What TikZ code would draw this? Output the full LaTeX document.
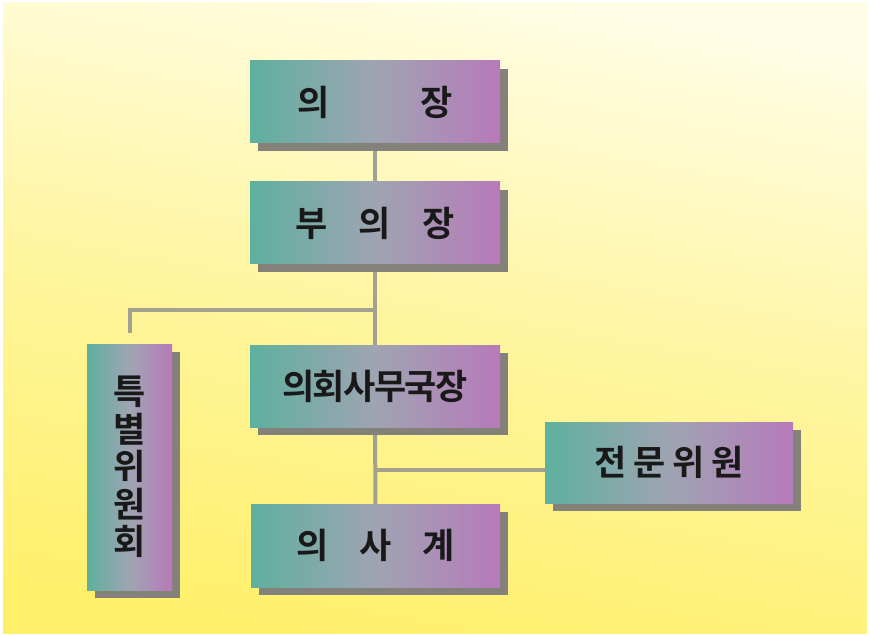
\documentclass[tikz,border=0pt]{standalone}
\usepackage{fontspec}
\newfontfamily\kr{Noto Sans CJK KR Bold}
\usetikzlibrary{shadows}
\definecolor{bgtop}{HTML}{FFFDE6}
\definecolor{bgmid}{HTML}{FFF5A0}
\definecolor{bgbot}{HTML}{FFF06C}
\definecolor{boxL}{HTML}{5EB09E}
\definecolor{boxM}{HTML}{9FA4B2}
\definecolor{boxR}{HTML}{B77ABA}
\definecolor{shadowgray}{HTML}{84817A}
\definecolor{linegray}{HTML}{A3A192}
\pgfdeclarelayer{bg}
\pgfdeclarelayer{lines}
\pgfsetlayers{bg,lines,main}
\tikzset{
  orgbox/.style={rectangle, inner sep=0pt, outer sep=0pt,
    left color=boxL, right color=boxR, middle color=boxM,
    drop shadow={shadow xshift=8pt, shadow yshift=-8pt, opacity=1, fill=shadowgray},
    font=\kr\fontsize{35}{35}\selectfont, text=black!90},
  link/.style={draw=linegray, line width=4pt}
}
\begin{document}
\begin{tikzpicture}[x=1pt,y=-1pt]
\useasboundingbox (0,0) rectangle (870,636);
\begin{pgfonlayer}{bg}
  \fill[white] (0,0) rectangle (870,636);
  \shade[top color=bgtop, bottom color=bgbot, middle color=bgmid, shading angle=-10] (3,3) rectangle (867,633);
\end{pgfonlayer}

\node[orgbox, minimum width=250pt, minimum height=82pt] (chair) at (375,102) {의\hspace{91pt}장};
\node[orgbox, minimum width=250pt, minimum height=82pt] (vice) at (375,223) {부\hspace{31pt}의\hspace{31pt}장};
\node[orgbox, minimum width=250pt, minimum height=82pt] (office) at (375,386) {의\hspace{-1.5pt}회\hspace{-1.5pt}사\hspace{-1.5pt}무\hspace{-1.5pt}국\hspace{-1.5pt}장};
\node[orgbox, minimum width=248pt, minimum height=81pt] (expert) at (669,462.5) {전\hspace{7pt}문\hspace{7pt}위\hspace{7pt}원};
\node[orgbox, minimum width=249pt, minimum height=83pt] (clerk) at (375.5,545.5) {의\hspace{31pt}사\hspace{31pt}계};
\node[orgbox, minimum width=85pt, minimum height=246pt, align=center,
  font=\kr\fontsize{35}{37.5}\selectfont] (special) at (129.5,467) {특\\별\\위\\원\\회};

\coordinate (j1) at (375,310);
\coordinate (j2) at (375,470);
\begin{pgfonlayer}{lines}
  \draw[link] (chair.south) -- (vice.north);
  \draw[link] (vice.south) -- (office.north);
  \draw[link, shorten >=11pt] (j1) -| (special.north);
  \draw[link] (office.south) -- (clerk.north);
  \draw[link] (j2) -- (j2 -| expert.west);
\end{pgfonlayer}
\end{tikzpicture}
\end{document}
